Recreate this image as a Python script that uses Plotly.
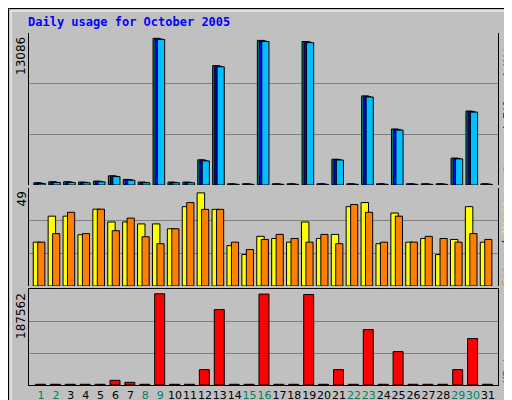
import plotly.graph_objects as go

days = list(range(1, 32))
weekend = [1, 2, 8, 9, 15, 16, 22, 23, 29, 30]
hits = [200, 290, 290, 260, 350, 820, 500, 260, 13086, 260, 260, 2250, 10650, 110, 110, 12900,
        110, 110, 12800, 110, 2300, 110, 7950, 110, 5000, 110, 110, 110, 2400, 6600, 110]
files = [170, 260, 260, 230, 320, 790, 470, 230, 13030, 230, 230, 2200, 10600, 90, 90, 12850,
         90, 90, 12750, 90, 2270, 90, 7900, 90, 4950, 90, 90, 90, 2370, 6550, 90]
pages = [130, 220, 220, 200, 280, 750, 430, 200, 12990, 200, 200, 2150, 10550, 60, 60, 12800,
         60, 60, 12700, 60, 2230, 60, 7850, 60, 4900, 60, 60, 60, 2330, 6500, 60]
visits = [22.6, 36, 36, 26.4, 39.6, 33, 33, 32, 32, 29.5, 40.9, 48, 39.5, 20.8, 16.2, 25.6,
          24.5, 22.6, 33, 24.5, 26.6, 40.9, 43, 21.8, 37.6, 22.6, 24.5, 16.2, 24, 40.9, 22.6]
sites = [22.6, 27, 38, 27, 39.6, 28.5, 35, 25.4, 21.8, 29.5, 43, 39.5, 39.5, 22.6, 18.8, 24,
         26.6, 24.5, 22.6, 26.6, 21.8, 42, 38, 22.6, 36, 22.6, 25.6, 24.5, 22.6, 27, 24]
kbytes = [1500, 1500, 1500, 1500, 1500, 9600, 5500, 1500, 187562, 1500, 1500, 31600, 155000, 1500, 1500, 187000,
          1500, 1500, 186000, 1500, 31600, 1500, 114000, 1500, 68700, 1500, 1500, 1500, 31600, 95500, 1500]
max_top, max_mid, max_bot = 13086, 49, 187562

W, H = 512, 400
def px(v): return v / W
def py(v): return 1 - v / H

fig = go.Figure()
ln = dict(color="black", width=1)
fig.add_bar(x=days, y=hits, offset=-0.48, width=0.47, marker=dict(color="#00805c", line=ln), yaxis="y")
fig.add_bar(x=days, y=files, offset=-0.34, width=0.47, marker=dict(color="#0000ff", line=ln), yaxis="y")
fig.add_bar(x=days, y=pages, offset=-0.18, width=0.48, marker=dict(color="#00c0ff", line=ln), yaxis="y")
fig.add_bar(x=days, y=visits, offset=-0.52, width=0.5, marker=dict(color="#ffff00", line=ln), yaxis="y2")
fig.add_bar(x=days, y=sites, offset=-0.22, width=0.48, marker=dict(color="#ff8000", line=ln), yaxis="y2")
fig.add_bar(x=days, y=kbytes, offset=-0.37, width=0.67, marker=dict(color="#ff0000", line=ln), yaxis="y3")

r1, r2, r3 = max_top / 0.965, max_mid / 0.97, max_bot / 0.95
def yax(dom, r):
    return dict(domain=dom, range=[0, r], tickvals=[r / 3, 2 * r / 3], showticklabels=False,
                gridcolor="#808080", gridwidth=1, zeroline=False, showline=True, linecolor="black",
                mirror=True, fixedrange=True, automargin=False)

ticktext = [f"<span style='color:#00805c'>{d}</span>" if d in weekend else str(d) for d in days]
fig.update_layout(
    width=W, height=H, margin=dict(l=0, r=0, t=0, b=0, autoexpand=False), showlegend=False,
    paper_bgcolor="#c0c0c0", plot_bgcolor="#c0c0c0", barmode="overlay",
    font=dict(family="DejaVu Sans", size=11, color="black"),
    xaxis=dict(domain=[px(21), px(490)], range=[0.195, 31.67], tickvals=days, ticktext=ticktext,
               tickangle=0, automargin=False,
               showgrid=False, showline=True, linecolor="black", mirror=True, ticks="",
               anchor="y3", tickfont=dict(size=11)),
    yaxis=yax([py(177), py(25)], r1),
    yaxis2=yax([py(278), py(180)], r2),
    yaxis3=yax([py(377), py(281)], r3),
)
fig.add_shape(type="rect", xref="paper", yref="paper", x0=0, y0=0, x1=1, y1=1,
              line=dict(color="black", width=2))
fig.add_shape(type="rect", xref="paper", yref="paper", x0=px(3), y0=py(397), x1=px(509), y1=py(3),
              line=dict(color="white", width=1))

fig.add_annotation(text="<b>Daily usage for October 2005</b>", xref="paper", yref="paper",
                   x=px(18), y=py(5), xanchor="left", yanchor="top", showarrow=False,
                   font=dict(family="DejaVu Sans Mono", size=12, color="#0000ff"))
for val, ytop in [(max_top, 27), (max_mid, 182), (max_bot, 283)]:
    fig.add_annotation(text=str(val), xref="paper", yref="paper", x=px(13), y=py(ytop),
                       xanchor="center", yanchor="top", textangle=-90, showarrow=False,
                       font=dict(size=12))
mono = dict(family="DejaVu Sans Mono", size=11)
fig.add_annotation(text="<span style='color:#00c0ff'>Pages</span> / <span style='color:#0000ff'>Files</span> / <span style='color:#00805c'>Hits</span>",
                   xref="paper", yref="paper", x=px(499), y=py(98), xanchor="center", yanchor="middle",
                   textangle=-90, showarrow=False, font=mono)
fig.add_annotation(text="<span style='color:#ff8000'>Sites</span> / <span style='color:#ffff00'>Visits</span>",
                   xref="paper", yref="paper", x=px(499), y=py(232), xanchor="center", yanchor="middle",
                   textangle=-90, showarrow=False, font=mono)
fig.add_annotation(text="<span style='color:#ff0000'>KBytes</span>",
                   xref="paper", yref="paper", x=px(499), y=py(377), xanchor="center", yanchor="bottom",
                   textangle=-90, showarrow=False, font=mono)
fig.write_html("out.html")
